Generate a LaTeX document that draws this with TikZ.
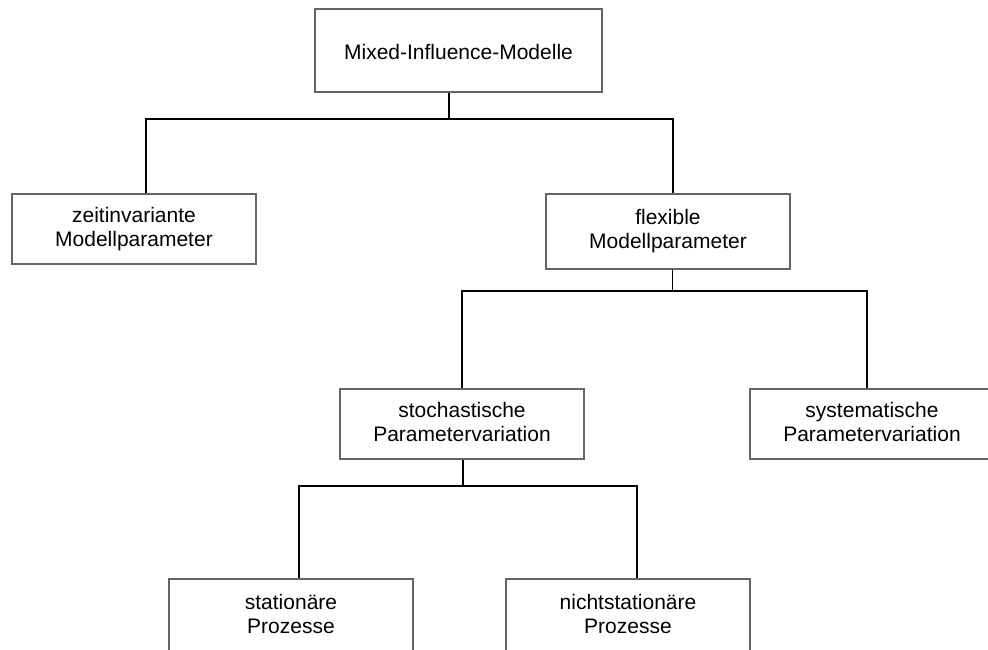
\documentclass[tikz,border=0pt]{standalone}
\usepackage{fontspec}
\setmainfont{Liberation Sans}
\tikzset{
  box/.style={draw=black!60, line width=1.2pt, rectangle, inner sep=0pt,
    minimum width=244pt, minimum height=70pt, align=center,
    font=\fontsize{21}{24}\selectfont,
    execute at begin node={\rule{0pt}{24pt}},
    execute at end node={\rule[-5pt]{0pt}{5pt}}},
  link/.style={line width=1.6pt},
}
\begin{document}
\begin{tikzpicture}[x=1pt,y=-1pt]
  \useasboundingbox (0,0) rectangle (988,650);
  \clip (0,0) rectangle (988,650);
  % boxes
  \node[box, minimum width=287pt, minimum height=83pt] (mim) at (458.5,50.5) {Mixed-Influence-Modelle};
  \node[box] (zeit) at (134,229) {zeitinvariante\\Modellparameter};
  \node[box, minimum height=75pt] (flex) at (668,231.5) {flexible\\Modellparameter};
  \node[box] (stoch) at (462,424) {stochastische\\Parametervariation};
  \node[box] (syst) at (872,424) {systematische\\Parametervariation};
  \node[box, minimum height=74pt] (stat) at (291,616) {stationäre\\Prozesse};
  \node[box, minimum height=74pt] (nicht) at (628,616) {nichtstationäre\\Prozesse};
  % branch points
  \coordinate (j1) at (449,119);
  \coordinate (j2) at (672.5,291);
  \coordinate (j3) at (463,486);
  % tree lines
  \draw[link] ([xshift=-9.5pt]mim.south) -- (j1);
  \draw[link] ([xshift=12pt]zeit.north) |- (j1) -| ([xshift=5pt]flex.north);
  \draw[link] ([xshift=4.5pt]flex.south) -- (j2);
  \draw[link] (stoch.north) |- (j2) -| ([xshift=-5pt]syst.north);
  \draw[link] ([xshift=1pt]stoch.south) -- (j3);
  \draw[link] ([xshift=8pt]stat.north) |- (j3) -| ([xshift=9pt]nicht.north);
\end{tikzpicture}
\end{document}
